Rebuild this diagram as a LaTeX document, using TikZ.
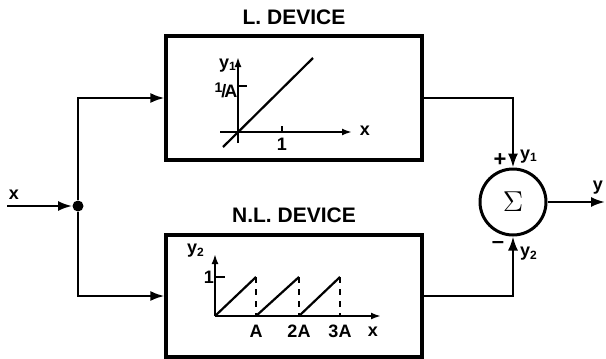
\documentclass[tikz,border=0pt]{standalone}
\usepackage{fontspec}
\setmainfont{Liberation Sans}
\usetikzlibrary{arrows.meta,positioning}

\begin{document}
\begin{tikzpicture}[
  x=0.5pt, y=-0.5pt,
  wire/.style={line width=1.1pt},
  sig/.style={wire, -{Latex[length=7pt,width=5pt]}},
  axis/.style={line width=1pt, -{Latex[length=5pt,width=3.5pt]}},
  device/.style={rectangle, draw, line width=1.6pt, minimum width=128pt, minimum height=62pt, inner sep=0pt},
  title/.style={inner sep=0pt, font=\fontsize{10.5}{12}\selectfont\bfseries},
  lbl/.style={inner sep=0pt, font=\fontsize{9}{10}\selectfont\bfseries},
  summer/.style={circle, draw, line width=1.5pt, minimum size=33pt, inner sep=0pt, font=\Large},
  dot/.style={circle, fill, minimum size=5.5pt, inner sep=0pt}
]
\useasboundingbox (0,0) rectangle (606,359);

% blocks
\node[device] (ldev) at (294,98) {};
\node[device, minimum height=61pt] (nldev) at (294,296) {};
\node[title, above=4.5pt of ldev] (ltitle) {L. DEVICE};
\node[title, above=5pt of nldev] (nltitle) {N.L. DEVICE};
\node[summer] (sum) at (513,202) {$\Sigma$};
\node[dot] (split) at (78,206) {};
\coordinate (in) at (7,206);
\coordinate (out) at (605,202);

% signal paths
\draw[sig] (in) -- (split);
\draw[sig] (split) |- (ldev.west);
\draw[sig] (split) |- (nldev.west);
\draw[sig] (ldev.east) -| (sum.north);
\draw[sig] (nldev.east) -| (sum.south);
\draw[sig] (sum) -- (out);

\node[lbl] (xin) at (14,195) {x};
\node[lbl, font=\fontsize{11}{12}\selectfont\bfseries] (plus) at (500,160) {+};
\node[lbl] (y1) at (529,157) {y\textsubscript{1}};
\node[lbl, font=\fontsize{11}{12}\selectfont\bfseries] (minus) at (498,245) {\textendash};
\node[lbl] (y2) at (529,254) {y\textsubscript{2}};
\node[lbl] (yout) at (598,188) {y};

% linear characteristic
\begin{scope}[shift={(238,132)}]
  \draw[axis] (-18,0) -- (114,0);
  \draw[axis] (0,11) -- (0,-75);
  \draw[wire] (-15,15) -- (75,-74);
  \draw[wire] (0,-46) -- (9,-46);
  \draw[wire] (44,-6) -- (44,0);
  \node[lbl] (lone) at (44,12) {1};
  \node[lbl] (lslope) at (-12,-42) {{\scriptsize\raisebox{2.5pt}{1}}\kern-0.5pt/\kern-1pt A};
  \node[lbl] (lx) at (127,-1) {x};
  \node[lbl] (ly) at (-10,-66) {y\textsubscript{1}};
\end{scope}

% sawtooth characteristic
\begin{scope}[shift={(215,316)}]
  \draw[axis] (0,0) -- (166,0);
  \draw[axis] (0,0) -- (0,-62);
  \foreach \a/\b in {0/41, 41/84, 84/125}{
    \draw[wire] (\a,0) -- (\b,-39);
    \draw[wire, dashed] (\b,-39) -- (\b,0);
  }
  \draw[wire] (0,-39) -- (10,-39);
  \node[lbl] (none) at (-6,-39) {1};
  \node[lbl] (nA) at (41,15) {A};
  \node[lbl] (n2A) at (84,15) {2A};
  \node[lbl] (n3A) at (125,15) {3A};
  \node[lbl] (nx) at (158,16) {x};
  \node[lbl] (ny) at (-19,-65) {y\textsubscript{2}};
\end{scope}
\end{tikzpicture}
\end{document}
